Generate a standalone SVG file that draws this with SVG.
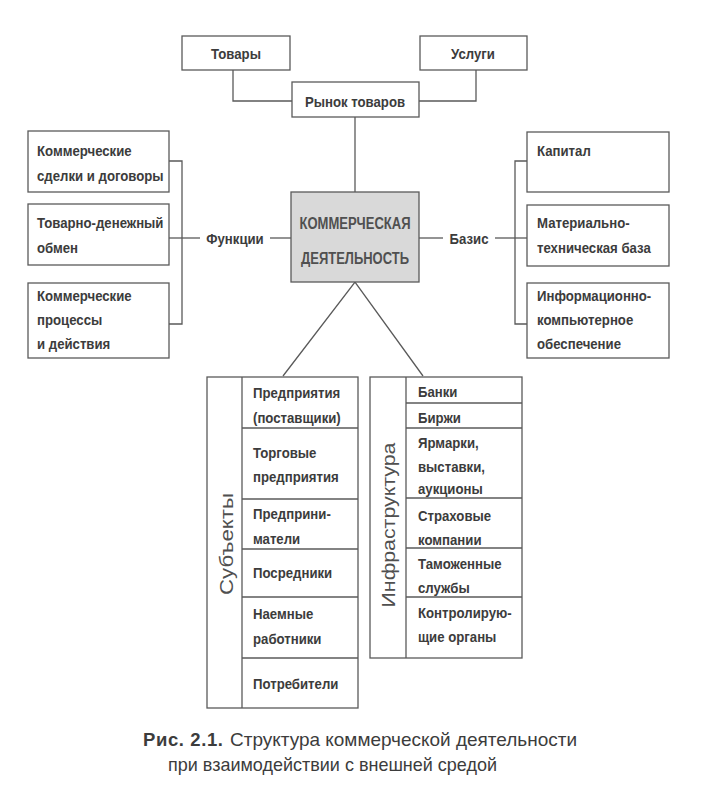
<svg xmlns="http://www.w3.org/2000/svg" width="722" height="801" viewBox="0 0 722 801">
<style>
.box{fill:#fff;stroke:#5a5a5a;stroke-width:1.3}
.core{fill:#d9d9d9;stroke:#5a5a5a;stroke-width:1.3}
.ln{fill:none;stroke:#5a5a5a;stroke-width:1.3}
.t{font-family:"Liberation Sans",Arial,sans-serif;font-weight:bold;font-size:15px;fill:#3c3c3c;transform-box:fill-box;transform-origin:0 50%;transform:scaleX(.88)}
.tc{text-anchor:middle;transform-origin:50% 50%}
.core-t{font-family:"Liberation Sans",Arial,sans-serif;font-weight:bold;font-size:16px;fill:#505050;text-anchor:middle}
.v{font-family:"Liberation Sans",Arial,sans-serif;font-size:19px;fill:#505050;text-anchor:middle}
.cap{font-family:"Liberation Sans",Arial,sans-serif;font-size:18.5px;fill:#3c3c3c}
</style>
<rect width="722" height="801" fill="#fff"/>
<g id="connectors">
<polyline class="ln" points="233,70 233,101 292,101"/>
<polyline class="ln" points="476,70 476,101 419,101"/>
<line class="ln" x1="355" y1="117" x2="355" y2="192"/>
<polyline class="ln" points="169,161 182,161 182,324 169,324"/>
<line class="ln" x1="169" y1="238" x2="200" y2="238"/>
<line class="ln" x1="270" y1="238" x2="291" y2="238"/>
<polyline class="ln" points="527,161 515,161 515,324 527,324"/>
<line class="ln" x1="419" y1="238" x2="443" y2="238"/>
<line class="ln" x1="495" y1="238" x2="527" y2="238"/>
<polyline class="ln" points="283,376 355,282 423,376"/>
</g>
<g id="n-tovary"><rect class="box" x="182" y="36" width="108" height="34"/><text class="t tc" x="236" y="59">Товары</text></g>
<g id="n-uslugi"><rect class="box" x="420" y="36" width="107" height="34"/><text class="t tc" x="473" y="59">Услуги</text></g>
<g id="n-rynok"><rect class="box" x="292" y="82" width="127" height="35"/><text class="t tc" x="355" y="107">Рынок товаров</text></g>
<g id="n-core"><rect class="core" x="291" y="192" width="128" height="90"/>
<text class="core-t" x="355" y="229" textLength="111" lengthAdjust="spacingAndGlyphs">КОММЕРЧЕСКАЯ</text>
<text class="core-t" x="355" y="264" textLength="108" lengthAdjust="spacingAndGlyphs">ДЕЯТЕЛЬНОСТЬ</text></g>
<g id="n-funkcii"><text class="t tc" x="235" y="244">Функции</text></g>
<g id="n-bazis"><text class="t tc" x="469" y="244">Базис</text></g>
<g id="n-sdelki"><rect class="box" x="28" y="131" width="141" height="61"/><text class="t" x="37" y="156">Коммерческие</text><text class="t" x="37" y="181">сделки и договоры</text></g>
<g id="n-obmen"><rect class="box" x="28" y="204" width="141" height="61"/><text class="t" x="37" y="228">Товарно-денежный</text><text class="t" x="37" y="253">обмен</text></g>
<g id="n-processy"><rect class="box" x="28" y="283" width="141" height="75"/><text class="t" x="37" y="301">Коммерческие</text><text class="t" x="37" y="325">процессы</text><text class="t" x="37" y="349">и действия</text></g>
<g id="n-kapital"><rect class="box" x="527" y="132" width="142" height="60"/><text class="t" x="537" y="156">Капитал</text></g>
<g id="n-mtb"><rect class="box" x="527" y="205" width="142" height="61"/><text class="t" x="537" y="228">Материально-</text><text class="t" x="537" y="253">техническая база</text></g>
<g id="n-iko"><rect class="box" x="527" y="283" width="142" height="75"/><text class="t" x="537" y="301">Информационно-</text><text class="t" x="537" y="325">компьютерное</text><text class="t" x="537" y="349">обеспечение</text></g>
<g id="n-subekty">
<rect class="box" x="207" y="377" width="151" height="331"/>
<line class="ln" x1="242" y1="377" x2="242" y2="708"/>
<line class="ln" x1="242" y1="428" x2="358" y2="428"/>
<line class="ln" x1="242" y1="499" x2="358" y2="499"/>
<line class="ln" x1="242" y1="549" x2="358" y2="549"/>
<line class="ln" x1="242" y1="597" x2="358" y2="597"/>
<line class="ln" x1="242" y1="658" x2="358" y2="658"/>
<text class="v" transform="translate(233,544) rotate(-90)" textLength="102" lengthAdjust="spacingAndGlyphs">Субъекты</text>
<text class="t" x="253" y="398">Предприятия</text><text class="t" x="253" y="423">(поставщики)</text>
<text class="t" x="253" y="458">Торговые</text><text class="t" x="253" y="482">предприятия</text>
<text class="t" x="253" y="519">Предприни-</text><text class="t" x="253" y="544">матели</text>
<text class="t" x="253" y="578">Посредники</text>
<text class="t" x="253" y="619">Наемные</text><text class="t" x="253" y="644">работники</text>
<text class="t" x="253" y="689">Потребители</text>
</g>
<g id="n-infra">
<rect class="box" x="370" y="377" width="152" height="281"/>
<line class="ln" x1="406" y1="377" x2="406" y2="658"/>
<line class="ln" x1="406" y1="403" x2="522" y2="403"/>
<line class="ln" x1="406" y1="428" x2="522" y2="428"/>
<line class="ln" x1="406" y1="498" x2="522" y2="498"/>
<line class="ln" x1="406" y1="548" x2="522" y2="548"/>
<line class="ln" x1="406" y1="597" x2="522" y2="597"/>
<text class="v" transform="translate(395,525) rotate(-90)" textLength="165" lengthAdjust="spacingAndGlyphs">Инфраструктура</text>
<text class="t" x="418" y="397">Банки</text>
<text class="t" x="418" y="423">Биржи</text>
<text class="t" x="418" y="448">Ярмарки,</text><text class="t" x="418" y="472">выставки,</text><text class="t" x="418" y="494">аукционы</text>
<text class="t" x="418" y="521">Страховые</text><text class="t" x="418" y="545">компании</text>
<text class="t" x="418" y="569">Таможенные</text><text class="t" x="418" y="593">службы</text>
<text class="t" x="418" y="618">Контролирую-</text><text class="t" x="418" y="642">щие органы</text>
</g>
<g id="caption">
<text class="cap" x="143" y="746" font-weight="bold" textLength="80" lengthAdjust="spacing">Рис. 2.1.</text>
<text class="cap" x="230" y="746" textLength="347" lengthAdjust="spacingAndGlyphs">Структура коммерческой деятельности</text>
<text class="cap" x="168" y="771" textLength="329" lengthAdjust="spacingAndGlyphs">при взаимодействии с внешней средой</text>
</g>
</svg>
